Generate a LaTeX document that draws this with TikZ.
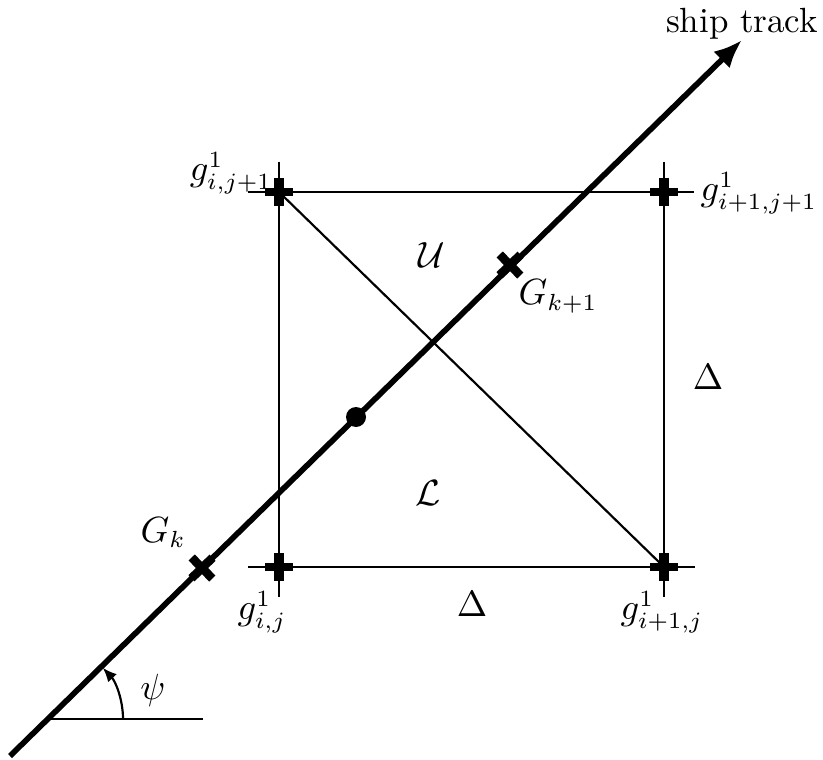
\documentclass[tikz,border=0pt]{standalone}
\usetikzlibrary{arrows.meta,calc}
\begin{document}
\begin{tikzpicture}[x=0.3pt,y=-0.3pt,
  thinline/.style={line width=0.65pt},
  trackline/.style={line width=1.7pt},
  markbar/.style={line width=2.6pt},
  lbl/.style={font=\fontsize{10.5}{12.6}\selectfont, inner sep=0pt}]
\useasboundingbox (0,0) rectangle (823,760);
% grid corners
\coordinate (A) at (279,567);
\coordinate (B) at (664,567);
\coordinate (C) at (664,192);
\coordinate (D) at (279,192);
% grid lines
\draw[thinline] ($(D)+(-31,0)$) -- ($(C)+(30,0)$);
\draw[thinline] ($(A)+(-31,0)$) -- ($(B)+(31,0)$);
\draw[thinline] ($(D)+(0,-30)$) -- ($(A)+(0,30)$);
\draw[thinline] ($(C)+(0,-30)$) -- ($(B)+(0,30)$);
\draw[thinline] (D) -- (B);
% grid markers
\foreach \p in {A,B,C,D}{
  \draw[markbar] ($(\p)+(-14,0)$) -- ($(\p)+(14,0)$);
  \draw[markbar,line width=3pt] ($(\p)+(0,-14)$) -- ($(\p)+(0,14)$);
}
% ship track
\coordinate (S) at (10,756);
\coordinate (T) at (742,40);
\coordinate (O) at (48,719);
\coordinate (H) at (203,719);
\coordinate (Gk) at (202,568);
\coordinate (Gk1) at (510,265);
\coordinate (P) at (356,417);
\draw[trackline,-{Latex[length=8.5pt,width=7pt]}] (S) -- (T);
\foreach \p in {Gk,Gk1}{
  \draw[markbar] ($(\p)+(-10.5,10.3)$) -- ($(\p)+(10.5,-10.3)$);
  \draw[markbar] ($(\p)+(-10.3,-10.5)$) -- ($(\p)+(10.3,10.5)$);
}
\fill (P) circle[radius=3pt];
% angle
\draw[thinline] (O) -- (H);
\draw[thinline,-{Latex[length=4.2pt,width=3.6pt]}] ($(O)+(75,0)$) arc[start angle=0,end angle=43,radius=22.5pt];
% labels
\node[lbl,anchor=base] (st) at (742,33) {ship track};
\node[lbl] (psi) at (153,690) {$\psi$};
\node[lbl,anchor=east] (lD) at (273,173) {$g^1_{i,j+1}$};
\node[lbl,anchor=west] (lC) at (700,193) {$g^1_{i+1,j+1}$};
\node[lbl] (lA) at (262,612) {$g^1_{i,j}$};
\node[lbl] (lB) at (662,612) {$g^1_{i+1,j}$};
\node[lbl] (d1) at (472,604) {$\Delta$};
\node[lbl] (d2) at (708,377) {$\Delta$};
\node[lbl] (U) at (432,255) {$\mathcal{U}$};
\node[lbl] (L) at (428,493) {$\mathcal{L}$};
\node[lbl,anchor=base west] (lGk) at (140,542) {$G_k$};
\node[lbl,anchor=base west] (lGk1) at (518,305) {$G_{k+1}$};
\end{tikzpicture}
\end{document}
